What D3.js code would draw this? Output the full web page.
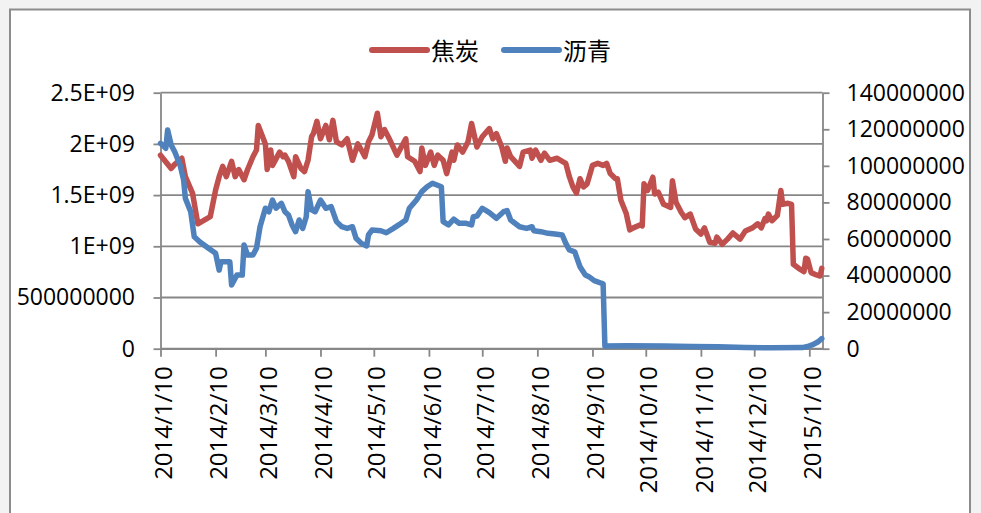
<!DOCTYPE html>
<html><head><meta charset="utf-8">
<script src="https://cdn.jsdelivr.net/npm/d3@7/dist/d3.min.js"></script>
<style>html,body{margin:0;padding:0;background:#f2f2f2;} svg{display:block}</style>
</head><body><svg id="c" width="981" height="513"></svg>
<script>
const seriesNames = ["焦炭", "沥青"];
const cokeDates = ["2014-01-10","2014-01-16","2014-01-18","2014-01-22","2014-01-24","2014-01-28","2014-01-31","2014-02-07","2014-02-10","2014-02-12","2014-02-14","2014-02-16","2014-02-19","2014-02-21","2014-02-23","2014-02-26","2014-02-28","2014-03-03","2014-03-05","2014-03-06","2014-03-08","2014-03-10","2014-03-11","2014-03-13","2014-03-14","2014-03-18","2014-03-20","2014-03-21","2014-03-23","2014-03-26","2014-03-27","2014-03-30","2014-04-01","2014-04-03","2014-04-05","2014-04-06","2014-04-08","2014-04-10","2014-04-13","2014-04-15","2014-04-17","2014-04-19","2014-04-22","2014-04-25","2014-04-28","2014-05-01","2014-05-03","2014-05-05","2014-05-07","2014-05-09","2014-05-12","2014-05-14","2014-05-16","2014-05-19","2014-05-23","2014-05-28","2014-05-29","2014-06-02","2014-06-05","2014-06-06","2014-06-08","2014-06-11","2014-06-13","2014-06-15","2014-06-18","2014-06-20","2014-06-23","2014-06-24","2014-06-26","2014-06-29","2014-07-02","2014-07-04","2014-07-07","2014-07-10","2014-07-14","2014-07-16","2014-07-18","2014-07-21","2014-07-23","2014-07-24","2014-07-26","2014-07-31","2014-08-02","2014-08-06","2014-08-07","2014-08-09","2014-08-12","2014-08-14","2014-08-17","2014-08-21","2014-08-24","2014-08-26","2014-08-28","2014-08-30","2014-09-01","2014-09-03","2014-09-05","2014-09-07","2014-09-10","2014-09-13","2014-09-16","2014-09-18","2014-09-20","2014-09-23","2014-09-24","2014-09-26","2014-09-29","2014-10-01","2014-10-03","2014-10-07","2014-10-08","2014-10-09","2014-10-11","2014-10-14","2014-10-15","2014-10-17","2014-10-20","2014-10-24","2014-10-25","2014-10-27","2014-10-30","2014-11-01","2014-11-04","2014-11-07","2014-11-10","2014-11-12","2014-11-15","2014-11-18","2014-11-19","2014-11-22","2014-11-25","2014-11-28","2014-12-02","2014-12-05","2014-12-09","2014-12-12","2014-12-14","2014-12-16","2014-12-17","2014-12-18","2014-12-20","2014-12-23","2014-12-25","2014-12-26","2014-12-29","2014-12-31","2015-01-01","2015-01-04","2015-01-07","2015-01-08","2015-01-09","2015-01-11","2015-01-14","2015-01-16","2015-01-17"];
const cokeValues = [1.89e9,1.76e9,1.80e9,1.86e9,1.68e9,1.52e9,1.22e9,1.29e9,1.55e9,1.68e9,1.78e9,1.68e9,1.83e9,1.68e9,1.75e9,1.65e9,1.75e9,1.875e9,1.94e9,2.18e9,2.09e9,2.00e9,1.75e9,1.94e9,1.79e9,1.92e9,1.875e9,1.89e9,1.83e9,1.68e9,1.875e9,1.76e9,1.73e9,1.84e9,2.07e9,2.10e9,2.22e9,2.05e9,2.18e9,2.04e9,2.23e9,2.02e9,1.99e9,2.05e9,1.84e9,2.00e9,1.94e9,1.875e9,2.02e9,2.09e9,2.30e9,2.07e9,2.14e9,2.04e9,1.89e9,2.05e9,1.875e9,1.83e9,1.73e9,1.96e9,1.79e9,1.92e9,1.79e9,1.89e9,1.84e9,1.71e9,1.92e9,1.84e9,1.99e9,1.92e9,2.02e9,2.20e9,1.97e9,2.07e9,2.15e9,2.05e9,2.10e9,1.97e9,1.83e9,1.96e9,1.875e9,1.78e9,1.92e9,1.94e9,1.86e9,1.94e9,1.84e9,1.91e9,1.84e9,1.86e9,1.83e9,1.81e9,1.68e9,1.58e9,1.52e9,1.66e9,1.58e9,1.61e9,1.79e9,1.81e9,1.79e9,1.81e9,1.71e9,1.66e9,1.66e9,1.45e9,1.32e9,1.16e9,1.18e9,1.21e9,1.20e9,1.61e9,1.545e9,1.675e9,1.51e9,1.53e9,1.41e9,1.38e9,1.64e9,1.43e9,1.33e9,1.28e9,1.315e9,1.17e9,1.12e9,1.18e9,1.04e9,1.03e9,1.09e9,1.02e9,1.07e9,1.13e9,1.07e9,1.15e9,1.18e9,1.22e9,1.18e9,1.27e9,1.25e9,1.315e9,1.25e9,1.30e9,1.545e9,1.41e9,1.42e9,1.41e9,0.824e9,0.785e9,0.753e9,0.884e9,0.874e9,0.743e9,0.72e9,0.71e9,0.785e9];
const pitchDates = ["2014-01-10","2014-01-13","2014-01-14","2014-01-16","2014-01-18","2014-01-21","2014-01-23","2014-01-24","2014-01-27","2014-01-29","2014-02-01","2014-02-06","2014-02-10","2014-02-12","2014-02-13","2014-02-18","2014-02-19","2014-02-22","2014-02-25","2014-02-26","2014-02-28","2014-03-03","2014-03-05","2014-03-07","2014-03-10","2014-03-12","2014-03-14","2014-03-16","2014-03-19","2014-03-21","2014-03-23","2014-03-25","2014-03-27","2014-03-29","2014-03-31","2014-04-02","2014-04-03","2014-04-05","2014-04-07","2014-04-10","2014-04-13","2014-04-16","2014-04-19","2014-04-22","2014-04-25","2014-04-28","2014-04-30","2014-05-03","2014-05-06","2014-05-07","2014-05-09","2014-05-14","2014-05-17","2014-05-21","2014-05-24","2014-05-28","2014-05-30","2014-06-03","2014-06-06","2014-06-09","2014-06-12","2014-06-17","2014-06-18","2014-06-21","2014-06-24","2014-06-27","2014-07-01","2014-07-04","2014-07-05","2014-07-07","2014-07-10","2014-07-14","2014-07-18","2014-07-22","2014-07-24","2014-07-26","2014-07-31","2014-08-04","2014-08-07","2014-08-08","2014-08-12","2014-08-16","2014-08-20","2014-08-24","2014-08-26","2014-08-28","2014-08-31","2014-09-03","2014-09-06","2014-09-08","2014-09-11","2014-09-15","2014-09-16","2014-09-17","2014-09-30","2014-10-20","2014-11-05","2014-11-20","2014-12-05","2014-12-20","2015-01-06","2015-01-09","2015-01-12","2015-01-15","2015-01-17"];
const pitchValues = [112.3e6,109.6e6,119.6e6,111.4e6,107.7e6,100.5e6,92.3e6,82.2e6,74.9e6,61.2e6,58.5e6,54.9e6,52.2e6,43.0e6,47.6e6,47.6e6,34.8e6,40.3e6,40.3e6,56.7e6,51.2e6,51.2e6,54.9e6,66.7e6,76.8e6,74.9e6,81.3e6,76.8e6,79.5e6,74.9e6,73.1e6,67.7e6,64.0e6,70.4e6,65.8e6,72.2e6,85.9e6,75.9e6,74.9e6,81.3e6,76.8e6,77.7e6,69.5e6,66.7e6,65.8e6,66.7e6,60.4e6,57.6e6,56.2e6,62.2e6,64.9e6,64.5e6,63.4e6,65.8e6,67.7e6,70.4e6,76.8e6,81.3e6,85.9e6,88.6e6,90.5e6,88.6e6,69.5e6,67.7e6,70.8e6,68.6e6,68.6e6,67.7e6,72.2e6,72.5e6,76.8e6,74.4e6,71.3e6,74.9e6,75.5e6,70.4e6,66.7e6,65.8e6,66.7e6,64.5e6,64.0e6,63.1e6,62.7e6,62.2e6,57.6e6,54.0e6,53.0e6,44.8e6,40.3e6,39.4e6,37.2e6,35.8e6,35.5e6,1.5e6,1.6e6,1.5e6,1.2e6,1.0e6,0.7e6,0.5e6,0.6e6,1.2e6,2.2e6,3.8e6,5.5e6];
const leftTicks = [0, 5e8, 1e9, 1.5e9, 2e9, 2.5e9];
const leftTickLabels = ["0", "500000000", "1E+09", "1.5E+09", "2E+09", "2.5E+09"];
const rightTicks = [0, 2e7, 4e7, 6e7, 8e7, 1e8, 1.2e8, 1.4e8];
const rightTickLabels = ["0", "20000000", "40000000", "60000000", "80000000", "100000000", "120000000", "140000000"];
const xTickDates = ["2014-01-10","2014-02-10","2014-03-10","2014-04-10","2014-05-10","2014-06-10","2014-07-10","2014-08-10","2014-09-10","2014-10-10","2014-11-10","2014-12-10","2015-01-10"];
const xTickLabels = ["2014/1/10","2014/2/10","2014/3/10","2014/4/10","2014/5/10","2014/6/10","2014/7/10","2014/8/10","2014/9/10","2014/10/10","2014/11/10","2014/12/10","2015/1/10"];

const parse = d3.timeParse("%Y-%m-%d");
const svg = d3.select("#c");
const numFont = "'Open Sans', 'Noto Sans', sans-serif";
const cjkFont = "'Noto Sans CJK SC', sans-serif";
const gridColor = "#878787";
const colors = ["#C0504D", "#4F81BD"];

// chart area
svg.append("rect").attr("x", 10).attr("y", 9.5).attr("width", 960).attr("height", 530)
  .attr("fill", "#fff").attr("stroke", "#8c8c8c").attr("stroke-width", 2);

const L = 160.5, R = 822.5, T = 92.7, B = 348.7;
const x = d3.scaleTime()
  .domain([parse("2014-01-10"), d3.timeHour.offset(parse("2015-01-17"), 10)])
  .range([L, R]);
const yL = d3.scaleLinear().domain([0, 2.5e9]).range([B, T]);
const yR = d3.scaleLinear().domain([0, 1.4e8]).range([B, T]);

// gridlines
svg.append("g").selectAll("line").data(leftTicks).join("line")
  .attr("x1", L).attr("x2", R).attr("y1", d => yL(d)).attr("y2", d => yL(d))
  .attr("stroke", gridColor).attr("stroke-width", 1.8);

function styleAxis(g) {
  g.select(".domain").attr("stroke", gridColor).attr("stroke-width", 1.8);
  g.selectAll(".tick line").attr("stroke", gridColor).attr("stroke-width", 1.8);
  g.selectAll("text").attr("fill", "#000").style("font-family", numFont);
}

const gl = svg.append("g").attr("transform", `translate(${L},0)`)
  .call(d3.axisLeft(yL).tickValues(leftTicks).tickFormat((d, i) => leftTickLabels[i])
    .tickSize(7).tickSizeOuter(0).tickPadding(18.5));
styleAxis(gl);
gl.selectAll("text").style("font-size", "23px");

const gr = svg.append("g").attr("transform", `translate(${R},0)`)
  .call(d3.axisRight(yR).tickValues(rightTicks).tickFormat((d, i) => rightTickLabels[i])
    .tickSize(7).tickSizeOuter(0).tickPadding(17));
styleAxis(gr);
gr.selectAll("text").style("font-size", "23px");

const gb = svg.append("g").attr("transform", `translate(0,${B})`)
  .call(d3.axisBottom(x).tickValues(xTickDates.map(parse)).tickFormat((d, i) => xTickLabels[i])
    .tickSize(8).tickSizeOuter(0));
styleAxis(gb);
gb.selectAll("text").style("font-size", "24px")
  .attr("transform", "rotate(-90)").attr("text-anchor", "end")
  .attr("x", -17.5).attr("y", 2.5).attr("dy", "0.36em");

// series
const coke = cokeDates.map((d, i) => ({ date: parse(d), v: cokeValues[i] }));
const pitch = pitchDates.map((d, i) => ({ date: parse(d), v: pitchValues[i] }));
svg.append("path").datum(coke)
  .attr("d", d3.line().x(d => x(d.date)).y(d => yL(d.v)))
  .attr("fill", "none").attr("stroke", colors[0]).attr("stroke-width", 5.5)
  .attr("stroke-linejoin", "round").attr("stroke-linecap", "round");
svg.append("path").datum(pitch)
  .attr("d", d3.line().x(d => x(d.date)).y(d => yR(d.v)))
  .attr("fill", "none").attr("stroke", colors[1]).attr("stroke-width", 5.5)
  .attr("stroke-linejoin", "round").attr("stroke-linecap", "round");

// legend
const legendX = [372, 504];
const lg = svg.append("g");
seriesNames.forEach((name, i) => {
  lg.append("line").attr("x1", legendX[i]).attr("x2", legendX[i] + 55)
    .attr("y1", 50).attr("y2", 50).attr("stroke", colors[i]).attr("stroke-width", 6)
    .attr("stroke-linecap", "round");
  lg.append("text").attr("x", legendX[i] + 59).attr("y", 49)
    .attr("dominant-baseline", "central").style("font-family", cjkFont)
    .style("font-size", "24px").attr("fill", "#000").text(name);
});
</script></body></html>
